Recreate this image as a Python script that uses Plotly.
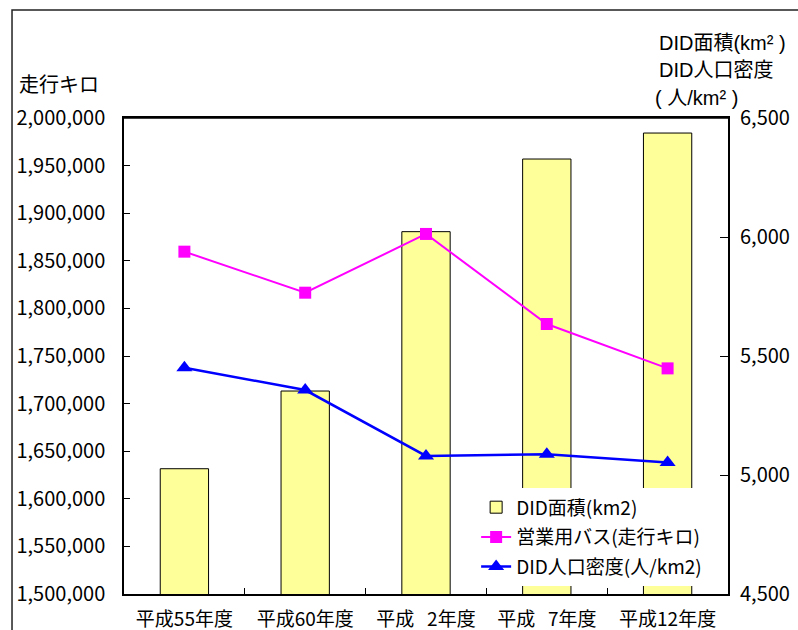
import plotly.graph_objects as go

categories = ["平成55年度", "平成60年度", "平成\u00a0\u00a0\u00a02年度", "平成\u00a0\u00a0\u00a07年度", "平成12年度"]
did_area = [1631600, 1713200, 1880600, 1956900, 1984200]   # bars, drawn on left scale
bus_km = [1859600, 1816500, 1878200, 1783600, 1737000]
did_density = [5451, 5357, 5080, 5087, 5052]

FONT = "Noto Sans CJK JP"
TFONT = "Liberation Sans, Noto Sans CJK JP"

fig = go.Figure()
fig.add_trace(go.Bar(
    x=categories, y=did_area, name="DID面積(km2)",
    marker=dict(color="#FFFF99", line=dict(color="#000000", width=1)),
    width=0.4, yaxis="y", legendgroup="a",
))
fig.add_trace(go.Scatter(
    x=categories, y=bus_km, name="営業用バス(走行キロ)", mode="lines+markers",
    line=dict(color="#FF00FF", width=2),
    marker=dict(symbol="square", size=12, color="#FF00FF"),
    yaxis="y", legendgroup="b",
))
fig.add_trace(go.Scatter(
    x=categories, y=did_density, name="DID人口密度(人/km2)", mode="lines+markers",
    line=dict(color="#0000FF", width=2.5),
    marker=dict(symbol="triangle-up", size=14, color="#0000FF"),
    yaxis="y2", legendgroup="c",
))

fig.update_layout(
    width=798, height=630,
    margin=dict(l=124, r=70, t=118, b=36, autoexpand=False),
    paper_bgcolor="white", plot_bgcolor="white",
    font=dict(family=FONT, size=18, color="#000000"),
    showlegend=True,
    legend=dict(
        x=0.583, y=0.222, xanchor="left", yanchor="top",
        bgcolor="white", borderwidth=0,
        font=dict(size=19, family=FONT),
        traceorder="grouped", tracegroupgap=2,
    ),
    xaxis=dict(
        type="category", showline=True, linecolor="#000000", linewidth=2,
        ticks="inside", ticklen=6, tickcolor="#000000", tickson="boundaries",
        mirror=True, showgrid=False, tickfont=dict(size=19),
        ticklabelstandoff=7,
    ),
    yaxis=dict(
        range=[1500000, 2000000], dtick=50000, tickformat=",",
        showline=True, linecolor="#000000", linewidth=1.5,
        ticks="inside", ticklen=6, tickcolor="#000000",
        showgrid=False, zeroline=False, tickfont=dict(size=20),
        ticklabelstandoff=13,
    ),
    yaxis2=dict(
        range=[4500, 6500], dtick=500, tickformat=",",
        overlaying="y", side="right",
        showline=True, linecolor="#000000", linewidth=2,
        ticks="inside", ticklen=8, tickcolor="#000000",
        showgrid=False, zeroline=False, tickfont=dict(size=20),
        ticklabelstandoff=6,
    ),
    shapes=[
        dict(type="rect", xref="paper", yref="paper",
             x0=-0.1854, x1=1.2, y0=-0.2, y1=1.2269,
             line=dict(color="#222222", width=1.5), fillcolor="rgba(0,0,0,0)", layer="above"),
        dict(type="line", xref="paper", yref="paper", x0=0, x1=1, y0=1, y1=1,
             line=dict(color="#000000", width=1.5)),
    ],
    annotations=[
        dict(text="走行キロ", xref="paper", yref="paper", x=-0.1772, y=1.0735,
             xanchor="left", yanchor="middle", showarrow=False, font=dict(size=20)),
        dict(text="DID面積(km² )", xref="paper", yref="paper", x=0.8825, y=1.1576,
             xanchor="left", yanchor="middle", showarrow=False,
             font=dict(size=20, family=TFONT)),
        dict(text="DID人口密度", xref="paper", yref="paper", x=0.8825, y=1.1008,
             xanchor="left", yanchor="middle", showarrow=False,
             font=dict(size=20, family=TFONT)),
        dict(text="( 人/km² )", xref="paper", yref="paper", x=0.876, y=1.0420,
             xanchor="left", yanchor="middle", showarrow=False,
             font=dict(size=20, family=TFONT)),
    ],
)

fig.write_html("out.html", config={"displayModeBar": False},
               post_script="document.body.style.margin='0px';")
